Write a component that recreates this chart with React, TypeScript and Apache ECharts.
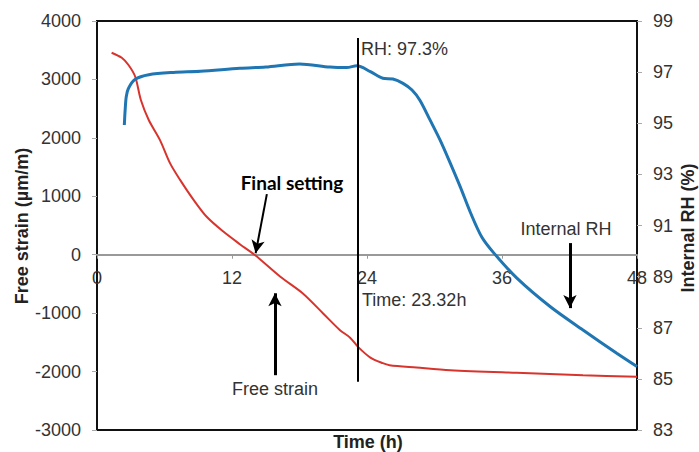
import React, { useEffect, useRef } from "react";
import * as echarts from "echarts";

// Free strain (µm/m) vs time (h)
const strainTime = [1.3, 2.2, 2.8, 3.4, 3.9, 4.6, 5.6, 6.5, 7.4, 8.6, 9.75, 11.2, 12.7, 14.0, 16.3, 18.3, 20.1, 21.6, 22.5, 23.2, 24.3, 25.4, 26.0, 28.4, 31.4, 37.3, 43.2, 48];
const strainValue = [3457, 3370, 3247, 3046, 2647, 2305, 1962, 1563, 1277, 935, 649, 400, 180, 0, -378, -663, -1005, -1291, -1420, -1577, -1760, -1856, -1890, -1930, -1976, -2022, -2062, -2090];

// Internal RH (%) vs time (h)
const rhTime = [2.43, 2.5, 2.6, 2.8, 3.4, 4.6, 6.8, 9.2, 12.7, 15, 18, 20.7, 22.2, 23.1, 24.3, 25.4, 26.3, 27.2, 28, 28.7, 29.6, 30.5, 31.4, 32.3, 33.2, 34.2, 35.3, 37.3, 40.3, 43.2, 46.2, 48];
const rhValue = [94.93, 95.5, 96.04, 96.37, 96.72, 96.9, 96.99, 97.03, 97.15, 97.2, 97.32, 97.2, 97.18, 97.25, 97.02, 96.76, 96.73, 96.56, 96.3, 95.9, 95.13, 94.34, 93.44, 92.5, 91.5, 90.55, 89.91, 88.95, 87.82, 86.91, 86.0, 85.48];

// axis settings
const timeMin = 0, timeMax = 48, timeStep = 12;
const strainMin = -3000, strainMax = 4000, strainStep = 1000;
const rhMin = 83, rhMax = 99, rhStep = 2;

// axis titles
const strainTitle = "Free strain (µm/m)";
const rhTitle = "Internal RH (%)";
const timeTitle = "Time (h)";

// annotation values
const markTime = 23.17;
const markLabelRH = "RH: 97.3%";
const markLabelTime = "Time: 23.32h";

const FONT = "'Liberation Sans', Arial, sans-serif";
const TXT = "#333";

const GRID = { left: 97, right: 62, top: 21, bottom: 22 };
const H = 452;
const plotH = H - GRID.top - GRID.bottom;
// raise the time axis up to strain = 0
const zeroOffset = -plotH * (0 - strainMin) / (strainMax - strainMin);

export default function App() {
  const ref = useRef<HTMLDivElement>(null);
  useEffect(() => {
    if (!ref.current) return;
    const chart = echarts.init(ref.current, undefined, { renderer: "svg" });
    const arrow = (from: number[], to: number[], width: number) => [
      { coord: from, symbol: "none", lineStyle: { color: "#000", width, type: "solid" } },
      { coord: to, symbol: "arrow", symbolSize: [10, 13] },
    ];
    const plain = (v: number) => String(v);
    chart.setOption({
      animation: false,
      textStyle: { fontFamily: FONT },
      grid: {
        ...GRID,
        outerBoundsMode: "none",
        containLabel: false,
        show: true, borderColor: "#111", borderWidth: 2, backgroundColor: "transparent",
      },
      xAxis: {
        type: "value", min: timeMin, max: timeMax, interval: timeStep,
        position: "bottom", offset: zeroOffset,
        axisLine: { onZero: false, lineStyle: { color: "#999", width: 2 } },
        axisTick: { show: true, length: 4, lineStyle: { color: "#999" } },
        axisLabel: { fontSize: 18, color: TXT, margin: 14, fontFamily: FONT, formatter: plain },
        splitLine: { show: false },
      },
      yAxis: [
        {
          type: "value", min: strainMin, max: strainMax, interval: strainStep,
          axisLine: { show: true, lineStyle: { color: "#111", width: 2 } },
          axisTick: { show: true, length: 5, lineStyle: { color: "#aaa" } },
          axisLabel: { fontSize: 18, color: TXT, margin: 16, fontFamily: FONT, formatter: plain },
          splitLine: { show: false },
        },
        {
          type: "value", min: rhMin, max: rhMax, interval: rhStep, position: "right",
          axisLine: { show: true, lineStyle: { color: "#111", width: 2 } },
          axisTick: { show: true, length: 5, lineStyle: { color: "#aaa" } },
          axisLabel: { fontSize: 18, color: TXT, margin: 16, fontFamily: FONT, formatter: plain },
          splitLine: { show: false },
        },
      ],
      series: [
        {
          type: "line", name: "Free strain", yAxisIndex: 0, showSymbol: false, smooth: 0.3,
          lineStyle: { color: "#d8342e", width: 2 }, itemStyle: { color: "#d8342e" },
          data: strainTime.map((t, i) => [t, strainValue[i]]),
          markLine: {
            silent: true, animation: false, label: { show: false },
            data: [
              [
                { coord: [markTime, 3709], symbol: "none", lineStyle: { color: "#000", width: 2, type: "solid" } },
                { coord: [markTime, -2176], symbol: "none" },
              ],
              arrow([15.1, 1038], [14.1, 25], 2),
              arrow([15.82, -2062], [15.82, -660], 3),
              arrow([42.04, 199], [42.04, -914], 3),
            ],
          },
        },
        {
          type: "line", name: "Internal RH", yAxisIndex: 1, showSymbol: false, smooth: 0.3,
          lineStyle: { color: "#1f76b3", width: 3 }, itemStyle: { color: "#1f76b3" },
          data: rhTime.map((t, i) => [t, rhValue[i]]),
        },
      ],
      graphic: [
        { type: "text", x: 22, y: 226, rotation: Math.PI / 2, style: { text: strainTitle, font: `bold 18px ${FONT}`, fill: "#222", align: "center", verticalAlign: "middle" } },
        { type: "text", x: 688, y: 228, rotation: Math.PI / 2, style: { text: rhTitle, font: `bold 18px ${FONT}`, fill: "#222", align: "center", verticalAlign: "middle" } },
        { type: "text", x: 368, y: 442, style: { text: timeTitle, font: `bold 18px ${FONT}`, fill: "#222", align: "center", verticalAlign: "middle" } },
        { type: "text", left: 361, top: 40, style: { text: markLabelRH, font: `18px ${FONT}`, fill: TXT } },
        { type: "text", left: 362, top: 291, style: { text: markLabelTime, font: `18px ${FONT}`, fill: TXT } },
        { type: "text", x: 292, y: 182, style: { text: "Final setting", font: `bold 19px Lato, 'Open Sans', sans-serif`, fill: "#000", align: "center", verticalAlign: "middle" } },
        { type: "text", x: 275, y: 389, style: { text: "Free strain", font: `18px ${FONT}`, fill: TXT, align: "center", verticalAlign: "middle" } },
        { type: "text", x: 566, y: 229, style: { text: "Internal RH", font: `18px ${FONT}`, fill: TXT, align: "center", verticalAlign: "middle" } },
      ],
    });
    return () => chart.dispose();
  }, []);
  return <div ref={ref} style={{ position: "fixed", left: 0, top: 0, width: 699, height: 452, background: "#fff" }} />;
}
